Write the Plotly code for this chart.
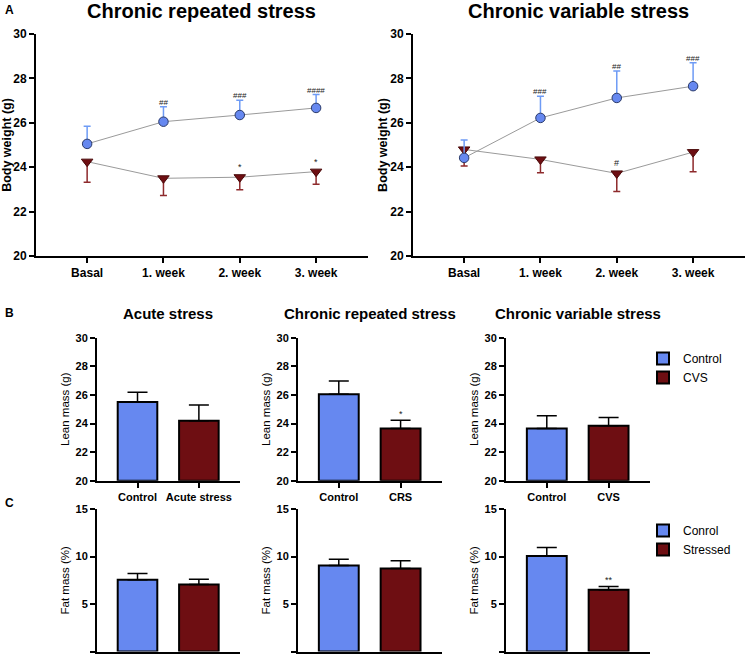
import plotly.graph_objects as go

W, H = 747, 657

# ---------------- DATA ----------------
weeks = ["Basal", "1. week", "2. week", "3. week"]

crs_ctrl = [25.05, 26.05, 26.35, 26.67]
crs_ctrl_err = [0.80, 0.67, 0.67, 0.60]
crs_stress = [24.25, 23.50, 23.55, 23.80]
crs_stress_err = [0.93, 0.78, 0.57, 0.57]
crs_ctrl_marks = ["", "##", "###", "####"]
crs_stress_marks = ["", "", "*", "*"]

cvs_ctrl = [24.42, 26.22, 27.12, 27.65]
cvs_ctrl_err = [0.80, 0.98, 1.21, 1.05]
cvs_stress = [24.80, 24.35, 23.72, 24.68]
cvs_stress_err = [0.75, 0.60, 0.82, 0.88]
cvs_ctrl_marks = ["", "###", "##", "###"]
cvs_stress_marks = ["", "", "#", ""]

lean_titles = ["Acute stress", "Chronic repeated stress", "Chronic variable stress"]
lean_cats = [["Control", "Acute stress"], ["Control", "CRS"], ["Control", "CVS"]]
lean_vals = [[25.50, 24.20], [26.05, 23.65], [23.65, 23.85]]
lean_err = [[0.68, 1.10], [0.92, 0.57], [0.90, 0.57]]
lean_marks = [["", ""], ["", "*"], ["", ""]]

fat_vals = [[7.55, 7.05], [9.05, 8.75], [10.05, 6.50]]
fat_err = [[0.65, 0.55], [0.65, 0.80], [0.90, 0.35]]
fat_marks = [["", ""], ["", ""], ["", "**"]]

legend_b = ["Control", "CVS"]
legend_c = ["Conrol", "Stressed"]

BLUE = "#6688F0"
RED = "#6E0E12"
BLUE_ERR = "#6E9BF5"
RED_ERR = "#8E2A2C"
FONT = "Liberation Sans, Arial, sans-serif"

fig = go.Figure()

def px_x(a, b):
    return [a / W, b / W]

def px_y(top, bottom):
    return [1 - bottom / H, 1 - top / H]

# ---------------- PANEL A ----------------
a_panels = [
    ("x", "y", px_x(36, 368), crs_ctrl, crs_ctrl_err, crs_stress, crs_stress_err,
     crs_ctrl_marks, crs_stress_marks),
    ("x2", "y2", px_x(413, 745), cvs_ctrl, cvs_ctrl_err, cvs_stress, cvs_stress_err,
     cvs_ctrl_marks, cvs_stress_marks),
]
ydomA = px_y(34, 256)
annotations = []
for i, (xa, ya, xdom, c, ce, s, se, cm, sm) in enumerate(a_panels):
    xi = list(range(len(weeks)))
    fig.add_trace(go.Scatter(
        x=xi, y=s, xaxis=xa, yaxis=ya, mode="lines+markers",
        line=dict(color="#9a9a9a", width=1),
        marker=dict(symbol="triangle-down", size=10, color=RED,
                    line=dict(color="#4a0a0a", width=1)),
        error_y=dict(type="data", symmetric=False, array=[0] * len(s), arrayminus=se,
                     color=RED_ERR, thickness=1.5, width=3.5),
        showlegend=False))
    fig.add_trace(go.Scatter(
        x=xi, y=c, xaxis=xa, yaxis=ya, mode="lines+markers",
        line=dict(color="#9a9a9a", width=1),
        marker=dict(symbol="circle", size=9.5, color=BLUE,
                    line=dict(color="#2a3a6a", width=1)),
        error_y=dict(type="data", symmetric=False, array=ce, arrayminus=[0] * len(c),
                     color=BLUE_ERR, thickness=1.5, width=3.5),
        showlegend=False))
    for k in range(len(weeks)):
        if cm[k]:
            annotations.append(dict(x=k, y=c[k] + ce[k], xref=xa, yref=ya, text=cm[k],
                                    showarrow=False, yanchor="bottom", yshift=-2,
                                    font=dict(size=8, color="#222", family=FONT)))
        if sm[k]:
            annotations.append(dict(x=k, y=s[k], xref=xa, yref=ya, text=sm[k],
                                    showarrow=False, yanchor="bottom", yshift=3,
                                    font=dict(size=9, color="#222", family=FONT)))
    axn = "" if i == 0 else "2"
    fig.update_layout(**{
        "xaxis" + axn: dict(domain=xdom, range=[-0.67, 3.68], tickmode="array",
                            tickvals=list(range(len(weeks))), ticktext=weeks,
                            showline=True, linecolor="black", linewidth=2,
                            ticks="outside", ticklen=5, tickwidth=1.5, tickcolor="black",
                            showgrid=False, zeroline=False, automargin=False,
                            anchor=ya,
                            tickfont=dict(size=12, family=FONT, color="black", weight="bold")),
        "yaxis" + axn: dict(domain=ydomA, range=[20, 30], dtick=2,
                            showline=True, linecolor="black", linewidth=2,
                            ticks="outside", ticklen=5, tickwidth=1.5, tickcolor="black",
                            showgrid=False, zeroline=False, anchor=xa, automargin=False,
                            title=dict(text="Body weight (g)", standoff=0,
                                       font=dict(size=12.5, family=FONT, color="black",
                                                 weight="bold")),
                            tickfont=dict(size=12, family=FONT, color="black", weight="bold")),
    })

# ---------------- PANELS B & C ----------------
bc_xdoms = [px_x(97, 240), px_x(298, 442), px_x(506, 650)]
ydomB = px_y(337.7, 480.7)
ydomC = px_y(509, 651.5)
axis_idx = 3
for row, (vals, errs, marks, ydom, yr, dt, ytitle) in enumerate([
        (lean_vals, lean_err, lean_marks, ydomB, [20, 30], 2, "Lean mass (g)"),
        (fat_vals, fat_err, fat_marks, ydomC, [0, 15], 5, "Fat mass (%)")]):
    for p in range(3):
        xa = "x%d" % axis_idx
        ya = "y%d" % axis_idx
        cats = lean_cats[p]
        legend_names = legend_b if row == 0 else legend_c
        legend_id = "legend" if row == 0 else "legend2"
        for j in range(2):
            fig.add_trace(go.Bar(
                x=[j], y=[vals[p][j] - yr[0]], base=yr[0], xaxis=xa, yaxis=ya,
                width=0.645,
                marker=dict(color=[BLUE, RED][j], line=dict(color="black", width=2)),
                error_y=dict(type="data", symmetric=False, array=[errs[p][j]],
                             arrayminus=[0], color="black", thickness=1.5, width=10),
                name=legend_names[j], legend=legend_id,
                showlegend=(p == 2)))
            if marks[p][j]:
                annotations.append(dict(x=j, y=vals[p][j] + errs[p][j], xref=xa, yref=ya,
                                        text=marks[p][j], showarrow=False,
                                        yanchor="bottom", yshift=-1,
                                        font=dict(size=9, color="#222", family=FONT)))
        fig.update_layout(**{
            "xaxis%d" % axis_idx: dict(domain=bc_xdoms[p], range=[-0.66, 1.67],
                                       tickmode="array", tickvals=[0, 1],
                                       ticktext=cats if row == 0 else ["", ""],
                                       showline=True, linecolor="black", linewidth=2,
                                       ticks="outside" if row == 0 else "", ticklen=5,
                                       tickwidth=1.5, tickcolor="black", automargin=False,
                                       showgrid=False, zeroline=False, anchor=ya,
                                       tickfont=dict(size=11, family=FONT, color="black",
                                                     weight="bold")),
            "yaxis%d" % axis_idx: dict(domain=ydom, range=yr, dtick=dt,
                                       showline=True, linecolor="black", linewidth=2,
                                       ticks="outside", ticklen=5, tickwidth=1.5,
                                       tickcolor="black", showgrid=False, zeroline=False,
                                       anchor=xa, automargin=False,
                                       title=dict(text=ytitle, standoff=4,
                                                  font=dict(size=11.5, family=FONT,
                                                            color="black")),
                                       tickfont=dict(size=11, family=FONT, color="black",
                                                     weight="bold")),
        })
        axis_idx += 1

# ---------------- TITLES & LABELS ----------------
def title(text, xc, yc, size):
    annotations.append(dict(x=xc / W, y=1 - yc / H, xref="paper", yref="paper",
                            text=text, showarrow=False, xanchor="center", yanchor="middle",
                            font=dict(size=size, family=FONT, color="black", weight="bold")))

title("Chronic repeated stress", 201, 11, 20)
title("Chronic variable stress", 578, 11, 20)
for t, xc in zip(lean_titles, [168, 370, 578]):
    title(t, xc, 313, 15)
for lab, yc in zip(["A", "B", "C"], [10, 313, 503]):
    annotations.append(dict(x=3 / W, y=1 - yc / H, xref="paper", yref="paper", text=lab,
                            showarrow=False, xanchor="left", yanchor="middle",
                            font=dict(size=12, family=FONT, color="black", weight="bold")))

fig.update_layout(
    width=W, height=H, margin=dict(l=0, r=0, t=0, b=0, autoexpand=False),
    paper_bgcolor="white", plot_bgcolor="white",
    annotations=annotations, barmode="overlay",
    legend=dict(x=643 / W, y=1 - 344 / H, xanchor="left", yanchor="top",
                font=dict(size=12, family=FONT, color="black"),
                bgcolor="rgba(0,0,0,0)", tracegroupgap=0, itemclick=False),
    legend2=dict(x=643 / W, y=1 - 516 / H, xanchor="left", yanchor="top",
                 font=dict(size=12, family=FONT, color="black"),
                 bgcolor="rgba(0,0,0,0)", tracegroupgap=0, itemclick=False),
)

fig.write_html("out.html", config={"displayModeBar": False},
               post_script="document.body.style.margin='0';document.body.style.overflow='hidden';")
